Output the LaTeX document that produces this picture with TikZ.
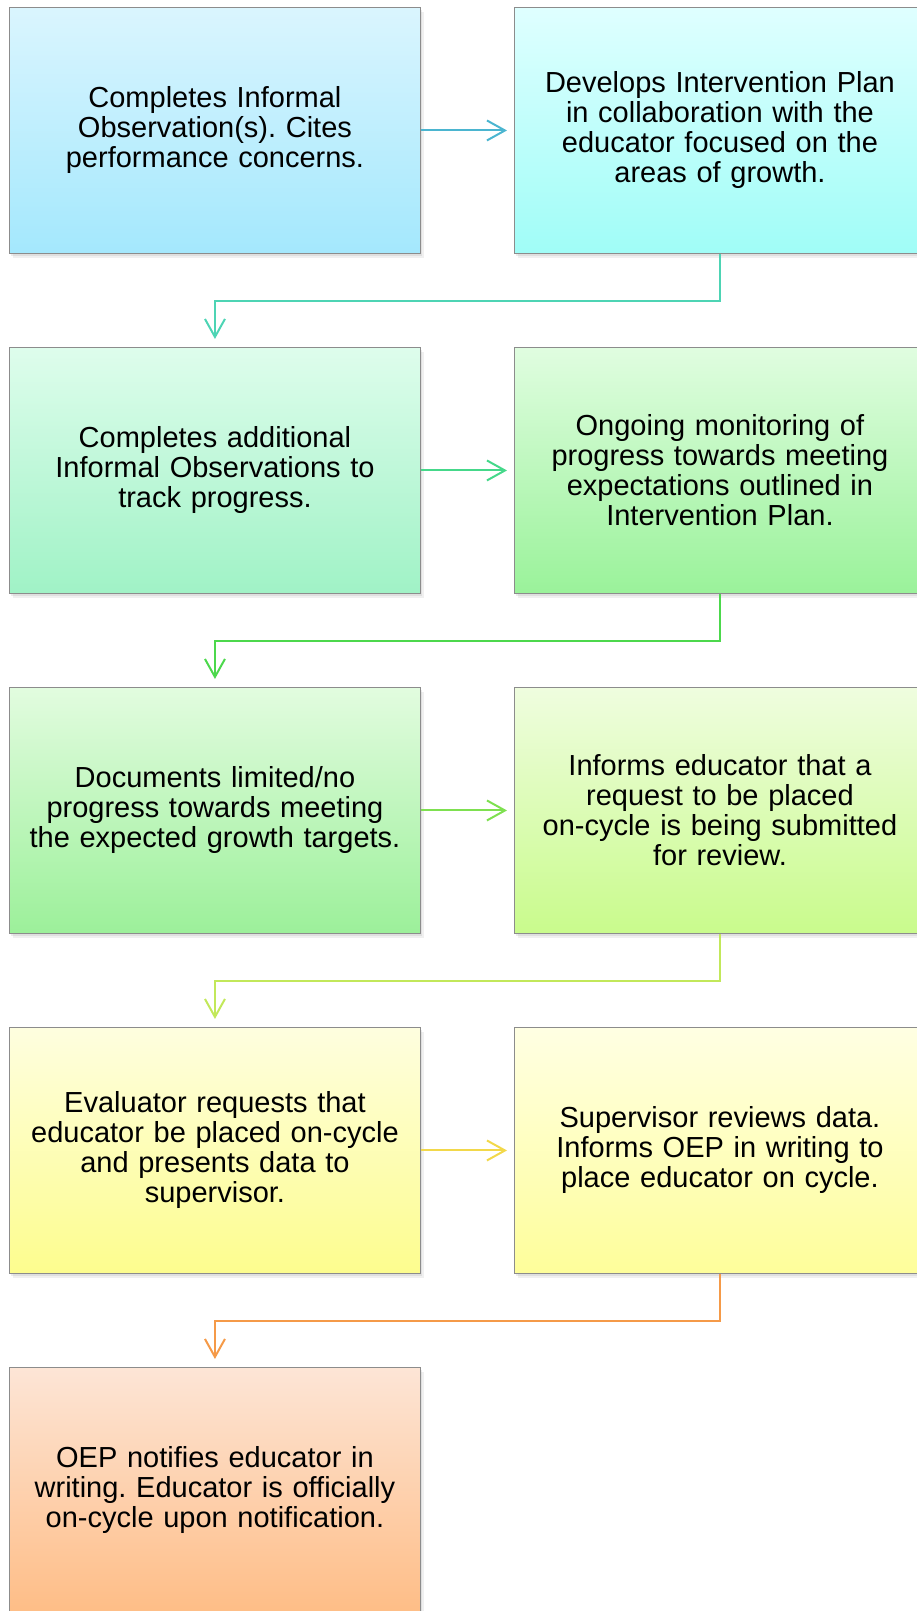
\documentclass[tikz,border=0pt]{standalone}
\usepackage{fontspec}
\setmainfont{Liberation Sans}
\usetikzlibrary{arrows.meta,shadows}
\frenchspacing
\definecolor{t1}{HTML}{DAF5FE}\definecolor{b1}{HTML}{A4E8FD}
\definecolor{t2}{HTML}{DFFFFF}\definecolor{b2}{HTML}{A0FDF7}
\definecolor{t3}{HTML}{DEFDEC}\definecolor{b3}{HTML}{A0F2C6}
\definecolor{t4}{HTML}{E0FDE0}\definecolor{b4}{HTML}{9AF29A}
\definecolor{t5}{HTML}{E2FCDF}\definecolor{b5}{HTML}{9CF09A}
\definecolor{t6}{HTML}{EFFDDF}\definecolor{b6}{HTML}{C9FB8C}
\definecolor{t7}{HTML}{FEFEDF}\definecolor{b7}{HTML}{FDFD8E}
\definecolor{t8}{HTML}{FFFFE3}\definecolor{b8}{HTML}{FEFE9A}
\definecolor{t9}{HTML}{FDE5D6}\definecolor{b9}{HTML}{FEBD86}
\definecolor{c1}{HTML}{4BB5D0}
\definecolor{c2}{HTML}{4DD4B4}
\definecolor{c3}{HTML}{45D88A}
\definecolor{c4}{HTML}{4CD84C}
\definecolor{c5}{HTML}{7EE050}
\definecolor{c6}{HTML}{C2E85A}
\definecolor{c7}{HTML}{F2D84A}
\definecolor{c8}{HTML}{F59A48}
\tikzset{
  stepbox/.style={rectangle, anchor=north west, minimum width=411pt, minimum height=246pt,
    text width=400pt, align=center, inner sep=0pt, draw=black!45, line width=0.9pt,
    font=\fontsize{29}{30}\selectfont,
    drop shadow={shadow xshift=4pt, shadow yshift=-5pt, opacity=0.12},
    drop shadow={shadow xshift=2pt, shadow yshift=-3pt, opacity=0.15}},
  conn/.style={line width=2pt, -{Straight Barb[length=18pt,width=20pt,line width=2pt]}},
  harrow/.style={conn, shorten >=7pt},
  varrow/.style={conn, shorten >=8pt}
}
\begin{document}
\begin{tikzpicture}[x=1pt,y=-1pt]
\useasboundingbox (0,0) rectangle (917,1611);
\node[stepbox, top color=t1, bottom color=b1] (n1) at (9,7) {Completes Informal\\Observation(s). Cites\\performance concerns.};
\node[stepbox, top color=t2, bottom color=b2] (n2) at (514,7) {Develops Intervention Plan\\in collaboration with the\\educator focused on the\\areas of growth.};
\node[stepbox, top color=t3, bottom color=b3] (n3) at (9,347) {Completes additional\\Informal Observations to\\track progress.};
\node[stepbox, top color=t4, bottom color=b4] (n4) at (514,347) {Ongoing monitoring of\\progress towards meeting\\expectations outlined in\\Intervention Plan.};
\node[stepbox, top color=t5, bottom color=b5] (n5) at (9,687) {Documents limited/no\\progress towards meeting\\the expected growth targets.};
\node[stepbox, top color=t6, bottom color=b6] (n6) at (514,687) {Informs educator that a\\request to be placed\\on-cycle is being submitted\\for review.};
\node[stepbox, top color=t7, bottom color=b7] (n7) at (9,1027) {Evaluator requests that\\educator be placed on-cycle\\and presents data to\\supervisor.};
\node[stepbox, top color=t8, bottom color=b8] (n8) at (514,1027) {Supervisor reviews data.\\Informs OEP in writing to\\place educator on cycle.};
\node[stepbox, top color=t9, bottom color=b9] (n9) at (9,1367) {OEP notifies educator in\\writing. Educator is officially\\on-cycle upon notification.};
\draw[harrow, c1] (n1.east) -- (n2.west);
\draw[varrow, c2] (n2.south) -- ++(0,47) -| (n3.north);
\draw[harrow, c3] (n3.east) -- (n4.west);
\draw[varrow, c4] (n4.south) -- ++(0,47) -| (n5.north);
\draw[harrow, c5] (n5.east) -- (n6.west);
\draw[varrow, c6] (n6.south) -- ++(0,47) -| (n7.north);
\draw[harrow, c7] (n7.east) -- (n8.west);
\draw[varrow, c8] (n8.south) -- ++(0,47) -| (n9.north);
\end{tikzpicture}
\end{document}
